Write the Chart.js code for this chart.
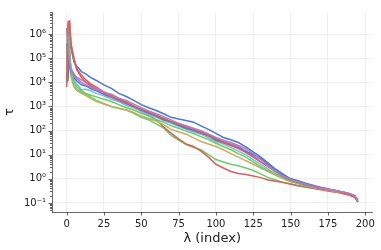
<!DOCTYPE html>
<html><head><meta charset="utf-8">
<script src="https://cdn.jsdelivr.net/npm/chart.js@4/dist/chart.umd.min.js"></script>
<style>html,body{margin:0;padding:0;background:#fff}#wrap{width:381px;height:250px}</style>
</head><body><div id="wrap"><canvas id="c" width="381" height="250"></canvas></div>
<script>
const xs = [0,1,2,3,5,7,10,13,16,20,25,30,35,40,45,50,55,60,65,70,75,80,85,90,95,100,105,110,115,120,125,130,135,140,145,150,155,160,170,180,188,193,195];

const blueA = [1e4,1.26e4,5e5,2.5e5,7.1e4,4.5e4,2.8e4,2.2e4,1.6e4,1.2e4,7.9e3,5.6e3,3.5e3,2.6e3,1.8e3,1.2e3,890,680,500,355,300,263,224,158,112,76,52,42,32,21,13,7.9,4.5,2.5,1.58,1,0.79,0.6,0.42,0.32,0.25,0.19,0.126];
const greenA = [1.26e4,2.5e6,1.6e5,2.5e4,7.1e3,5e3,4e3,3.2e3,2.5e3,1.8e3,1.3e3,1e3,830,710,525,355,280,190,126,63,40,26,20,16,10,6.3,5,4,3.5,2.8,2.2,1.6,1.12,0.89,0.71,0.63,0.52,0.45,0.38,0.3,0.24,0.18,0.11];
const redA = [6.3e3,1e5,3.2e6,4e5,1e5,3.5e4,2e4,1.26e4,8.9e3,6.3e3,4e3,2.8e3,2e3,1.5e3,1e3,630,420,280,141,79,45,28,22,14,7.9,4,2.8,2,1.66,1.51,1.32,1.12,0.89,0.79,0.71,0.6,0.52,0.47,0.355,0.28,0.22,0.166,0.11];
const purpleA = [1.8e6,6.3e5,1e5,4e4,2.2e4,1.6e4,1.26e4,1e4,7.9e3,5.6e3,4e3,2.8e3,2.1e3,1.6e3,1e3,760,560,420,316,224,178,141,112,89,71,50,35,28,22,14,8.9,5,3.2,2,1.26,0.89,0.71,0.56,0.4,0.32,0.25,0.19,0.126];
const oliveA = [1.6e5,2e6,6.3e4,1.6e4,6.3e3,4.5e3,3.5e3,2.8e3,2.2e3,1.6e3,1.26e3,1e3,850,710,560,400,316,250,178,112,89,71,50,35,28,22,16,11,7.9,5.6,4,2.8,2,1.41,1,0.76,0.63,0.52,0.38,0.3,0.24,0.18,0.11];
const cyanA = [3.2e4,1e6,1e5,3.2e4,1.26e4,7.9e3,5e3,5.2e3,4.5e3,3.5e3,2.8e3,2e3,1.6e3,1.1e3,890,630,450,355,263,200,151,112,89,71,50,35,28,20,14,10,6.3,4,2.5,1.58,1.12,0.83,0.66,0.54,0.4,0.32,0.25,0.19,0.126];
const blueB = [4e5,1.6e5,5e4,2.5e4,1.6e4,1.12e4,7.9e3,7.1e3,5.6e3,4.5e3,3.2e3,2.4e3,1.8e3,1.3e3,1e3,710,525,400,280,224,166,126,100,79,60,40,32,25,19,14,10,7.1,4.2,2.2,1.41,1,0.83,0.66,0.45,0.33,0.26,0.2,0.12];
const greenB = [1.6e4,2.8e6,3.2e5,3.2e4,1e4,6.3e3,4.5e3,3.5e3,3e3,2.5e3,2e3,1.6e3,1.2e3,890,710,525,400,280,224,158,126,95,76,56,42,30,22,16,11,7.9,5,3.2,2.2,1.58,1.12,0.79,0.63,0.52,0.4,0.32,0.25,0.19,0.11];
const redB = [1e4,3.2e6,3.5e6,3.2e5,7.9e4,3.2e4,1.6e4,1e4,7.1e3,5e3,3.5e3,2.5e3,1.9e3,1.4e3,1.05e3,760,600,420,316,240,178,141,112,83,63,45,32,24,18,12.6,7.9,5,3.2,2,1.26,0.89,0.71,0.56,0.4,0.32,0.24,0.18,0.11];
const purpleB = [1.6e6,3.2e5,6.3e4,3.2e4,2e4,1.4e4,1e4,7.9e3,6.3e3,5e3,3.8e3,3.2e3,2.2e3,1.8e3,1.26e3,890,660,500,380,280,200,158,126,100,71,52,40,32,24,18,11,6.3,3.5,2.1,1.32,0.95,0.76,0.6,0.42,0.33,0.26,0.2,0.126];

const seriesList = [blueA, greenA, redA, purpleA, oliveA, cyanA, blueB, greenB, redB, purpleB];
const seriesColors = ['#4878CF','#6ACC65','#D65F5F','#B47CC7','#C4AD66','#77BEDB','#4878CF','#6ACC65','#D65F5F','#B47CC7'];

const xTicks = [0,25,50,75,100,125,150,175,200];
const yTicks = [0.1,1,10,100,1e3,1e4,1e5,1e6];
const yTickLabels = ['10⁻¹','10⁰','10¹','10²','10³','10⁴','10⁵','10⁶'];

const datasets = seriesList.map((s,i)=>({
  data: s.map((v,j)=>({x: xs[j], y: v})),
  borderColor: seriesColors[i],
  borderWidth: 1.5,
  pointRadius: 0,
  tension: 0,
  fill: false
})).reverse();

const tickPlugin = {
  id: 'tickmarks',
  afterDraw(chart){
    const ctx = chart.ctx, ys = chart.scales.y, xsS = chart.scales.x;
    const ca = chart.chartArea;
    ctx.save();
    ctx.strokeStyle = '#333';
    ctx.lineWidth = 0.8;
    ctx.beginPath();
    for (let k=-2;k<=7;k++){
      for (let m=1;m<=9;m++){
        const v = m*Math.pow(10,k);
        if (v < ys.min || v > ys.max) continue;
        const p = Math.round(ys.getPixelForValue(v))+0.5;
        const len = m===1 ? 3.5 : 2;
        ctx.moveTo(ca.left-len, p); ctx.lineTo(ca.left, p);
      }
    }
    xTicks.forEach(t=>{
      const p = Math.round(xsS.getPixelForValue(t))+0.5;
      ctx.moveTo(p, ca.bottom); ctx.lineTo(p, ca.bottom+3.5);
    });
    ctx.stroke();
    ctx.restore();
  }
};

new Chart(document.getElementById('c'), {
  type: 'line',
  data: { datasets },
  options: {
    responsive: false,
    animation: false,
    devicePixelRatio: 1,
    layout: { padding: { top: 6, right: 8, left: 0, bottom: 0 } },
    plugins: { legend: { display: false }, tooltip: { enabled: false } },
    scales: {
      x: {
        type: 'linear', min: -9.75, max: 204.75,
        afterBuildTicks: s => { s.ticks = xTicks.map(v=>({value:v})); },
        afterFit: s => { s.height = 38; },
        grid: { color: '#ebebeb', lineWidth: 0.8, drawTicks: false },
        border: { display: true, color: '#444', width: 0.8 },
        ticks: { font: { family: 'DejaVu Sans', size: 10 }, color: '#222', padding: 6, maxRotation: 0, autoSkip: false },
        title: { display: true, text: 'λ (index)', font: { family: 'DejaVu Sans', size: 13 }, color: '#222', padding: { top: 0, bottom: 4 } }
      },
      y: {
        type: 'logarithmic', min: 0.042, max: 8.3e6,
        afterBuildTicks: s => { s.ticks = yTicks.map(v=>({value:v})); },
        afterFit: s => { s.width = 52; },
        grid: { color: '#ebebeb', lineWidth: 0.8, drawTicks: false },
        border: { display: true, color: '#444', width: 0.8 },
        ticks: { font: { family: 'DejaVu Sans', size: 10 }, color: '#222', padding: 6, autoSkip: false,
          callback: (v, i) => yTickLabels[i] },
        title: { display: true, text: 'τ', font: { family: 'DejaVu Sans', size: 13 }, color: '#222', padding: { top: 2, bottom: 0 } }
      }
    }
  },
  plugins: [tickPlugin]
});
</script></body></html>
